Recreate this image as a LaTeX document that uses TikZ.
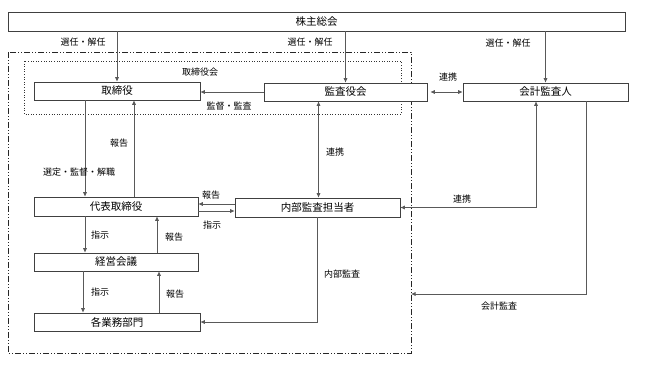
\documentclass[tikz,border=0pt]{standalone}
\usepackage{fontspec}
\setmainfont{Noto Sans CJK JP}
\usetikzlibrary{arrows.meta,calc}
\tikzset{
  box/.style={draw=black!75, fill=white, line width=0.6pt, inner sep=0pt, font=\fontsize{10.5}{12}\selectfont},
  lbl/.style={inner sep=0pt, font=\fontsize{9}{10}\selectfont},
  conn/.style={draw=black!65, line width=0.6pt},
  arr/.style={conn, -{Latex[length=4.5pt,width=4pt]}},
  dbl/.style={conn, {Latex[length=4.5pt,width=4pt]}-{Latex[length=4.5pt,width=4pt]}},
  outerframe/.style={draw=black!85, line width=0.7pt, dash pattern=on 6pt off 2pt on 1pt off 2pt on 1pt off 2pt},
  innerframe/.style={draw=black!80, line width=0.6pt, dotted}
}
\begin{document}
\begin{tikzpicture}[x=1pt,y=-1pt]
\useasboundingbox (0,0) rectangle (645,367);
% frames
\draw[outerframe] (8,52) rectangle (411,353);
\draw[innerframe] (24,61) rectangle (401,114);
\node[lbl] (torikai) at (200,72) {取締役会};
% boxes
\node[box, minimum width=617pt, minimum height=19pt] (sh) at (316.5,21.5) {株主総会};
\node[box, minimum width=166pt, minimum height=18pt] (tori) at (117,91) {取締役};
\node[box, minimum width=163pt, minimum height=18pt] (kansa) at (345.5,92) {監査役会};
\node[box, minimum width=165pt, minimum height=18pt] (kaikei) at (545.5,92) {会計監査人};
\node[box, minimum width=164pt, minimum height=19pt] (daihyo) at (116,206.5) {代表取締役};
\node[box, minimum width=165pt, minimum height=19pt] (naibu) at (317.5,207.5) {内部監査担当者};
\node[box, minimum width=164pt, minimum height=18pt] (keiei) at (116,262) {経営会議};
\node[box, minimum width=166pt, minimum height=18pt] (kakugyo) at (117,322) {各業務部門};
\coordinate (fr) at (411,294);
% connectors
\draw[arr] (sh.south -| tori.north) -- (tori.north);
\draw[arr] (sh.south -| kansa.north) -- (kansa.north);
\draw[arr] (sh.south -| kaikei.north) -- (kaikei.north);
\draw[arr] (kansa.west) -- (kansa.west -| tori.east);
\draw[dbl] ([xshift=3pt]kansa.east) -- (kaikei.west);
\draw[arr] ([xshift=-32pt]tori.south) -- ([xshift=-32pt]tori.south |- daihyo.north);
\draw[arr] ([xshift=18pt]daihyo.north) -- ([xshift=18pt]daihyo.north |- tori.south);
\draw[dbl] ([xshift=-27pt]kansa.south) -- ([xshift=-27pt]kansa.south |- naibu.north);
\draw[arr] ([yshift=3.5pt]naibu.west) -- ([yshift=3.5pt]naibu.west -| daihyo.east);
\draw[arr] ([yshift=-3.5pt]naibu.west -| daihyo.east) -- ([yshift=-3.5pt]naibu.west);
\draw[dbl] ([xshift=-9.5pt]kaikei.south) |- (naibu.east);
\draw[arr] ([xshift=40.5pt]kaikei.south) |- (fr);
\draw[arr] ([xshift=-31pt]daihyo.south) -- ([xshift=-31pt]daihyo.south |- keiei.north);
\draw[arr] ([xshift=41pt]keiei.north) -- ([xshift=41pt]keiei.north |- daihyo.south);
\draw[arr] ([xshift=-33pt]keiei.south) -- ([xshift=-33pt]keiei.south |- kakugyo.north);
\draw[arr] ([xshift=42pt]kakugyo.north) -- ([xshift=42pt]kakugyo.north |- keiei.south);
\draw[arr] (naibu.south) |- (kakugyo.east);
% labels
\node[lbl] (l1) at (83,42) {選任・解任};
\node[lbl] (l2) at (310,42) {選任・解任};
\node[lbl] (l3) at (508,43) {選任・解任};
\node[lbl] (l4) at (229,106) {監督・監査};
\node[lbl] (l5) at (448,77) {連携};
\node[lbl] (l6) at (119,143) {報告};
\node[lbl] (l7) at (79,172) {選定・監督・解職};
\node[lbl] (l8) at (335,152) {連携};
\node[lbl] (l9) at (211,195) {報告};
\node[lbl] (l10) at (212,225) {指示};
\node[lbl] (l11) at (462,199) {連携};
\node[lbl] (l12) at (100,235) {指示};
\node[lbl] (l13) at (174,237) {報告};
\node[lbl] (l14) at (100,292) {指示};
\node[lbl] (l15) at (175,294) {報告};
\node[lbl] (l16) at (342,274) {内部監査};
\node[lbl] (l17) at (499,306) {会計監査};
\end{tikzpicture}
\end{document}
